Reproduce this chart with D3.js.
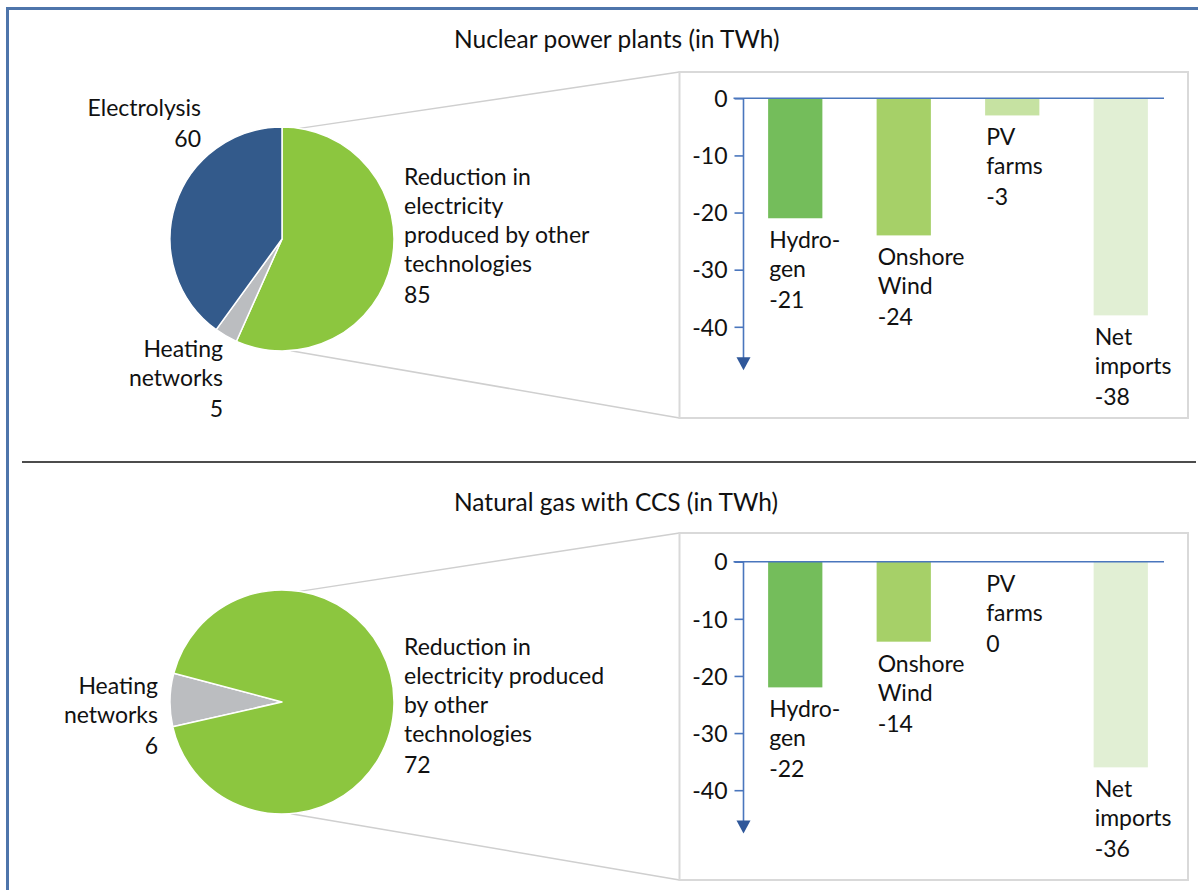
<!DOCTYPE html>
<html>
<head>
<meta charset="utf-8">
<script src="https://cdn.jsdelivr.net/npm/d3@7"></script>
<style>
  html, body { margin: 0; padding: 0; background: #fff; }
  svg { display: block; font-family: Lato, "Open Sans", sans-serif; }
</style>
</head>
<body>
<svg id="chart" width="1198" height="890"></svg>
<script>
// ---- Data ---------------------------------------------------------------
const panelTitles = ["Nuclear power plants (in TWh)", "Natural gas with CCS (in TWh)"];

const nuclearPieNames  = ["Reduction", "Heating", "Electrolysis"];
const nuclearPieValues = [85, 5, 60];
const nuclearPieLines  = [
  ["Reduction in", "electricity", "produced by other", "technologies"],
  ["Heating", "networks"],
  ["Electrolysis"]
];

const gasPieNames  = ["Heating", "Reduction"];
const gasPieValues = [6, 72];
const gasPieLines  = [
  ["Heating", "networks"],
  ["Reduction in", "electricity produced", "by other", "technologies"]
];

const barCategories   = ["Hydrogen", "Onshore Wind", "PV farms", "Net imports"];
const barLabelLines   = [["Hydro-", "gen"], ["Onshore", "Wind"], ["PV", "farms"], ["Net", "imports"]];
const nuclearBarValues = [-21, -24, -3, -38];
const gasBarValues     = [-22, -14, 0, -36];
const yTickValues      = [0, -10, -20, -30, -40];

// ---- Styling ------------------------------------------------------------
const pieColor = { Reduction: "#8cc63f", Heating: "#bbbdc0", Electrolysis: "#335a8b" };
const barColor = d3.scaleOrdinal().domain(barCategories)
  .range(["#74bd5b", "#a6d068", "#c6e2a2", "#e1efd4"]);
const axisBlue = "#4a76bd";
const arrowBlue = "#30589a";
const textColor = "#111";
const fontSize = 23;
const lineStep = 29;
const valueStep = 31;

const svg = d3.select("#chart");

// outer frame
svg.append("rect")
  .attr("x", 7.5).attr("y", 8.5).attr("width", 1400).attr("height", 1000)
  .attr("fill", "none").attr("stroke", "#4e75ab").attr("stroke-width", 3);

// divider between the two panels
svg.append("line")
  .attr("x1", 22).attr("x2", 1196).attr("y1", 462).attr("y2", 462)
  .attr("stroke", "#111").attr("stroke-width", 1.6);

// Multi-line label: text lines followed by the value on its own line
function multiLabel(g, x, y, lines, value, anchor) {
  const t = g.append("text")
    .attr("x", x).attr("y", y)
    .attr("text-anchor", anchor)
    .attr("font-size", fontSize)
    .attr("fill", textColor);
  lines.forEach((s, i) => {
    t.append("tspan").attr("x", x).attr("dy", i === 0 ? 0 : lineStep).text(s);
  });
  t.append("tspan").attr("x", x).attr("dy", lines.length ? valueStep : 0).text(String(value));
}

const panels = [
  {
    dy: 0,
    title: panelTitles[0],
    pieNames: nuclearPieNames, pieValues: nuclearPieValues, pieLines: nuclearPieLines,
    pieStartDeg: 0,
    pieLabelPos: [
      { x: 404, y: 185, anchor: "start" },
      { x: 223, y: 357, anchor: "end" },
      { x: 201, y: 116, anchor: "end" }
    ],
    barValues: nuclearBarValues,
    frameTop: 72, frameBottom: 418, y0: 98.3
  },
  {
    dy: 463,
    title: panelTitles[1],
    pieNames: gasPieNames, pieValues: gasPieValues, pieLines: gasPieLines,
    pieStartDeg: 257.2,
    pieLabelPos: [
      { x: 158, y: 694, anchor: "end" },
      { x: 404, y: 655, anchor: "start" }
    ],
    barValues: gasBarValues,
    frameTop: 533, frameBottom: 880, y0: 561.7
  }
];

const pieR = 112;
const pieCx = 282;
const frameLeft = 679.5, frameRight = 1188;

panels.forEach(p => {
  const g = svg.append("g");
  const cy = 239 + p.dy;

  // title
  g.append("text")
    .attr("x", 454).attr("y", 48 + p.dy)
    .attr("font-size", 24.5).attr("fill", textColor)
    .text(p.title);

  // connector lines from pie to the breakdown box
  const a1 = 9 * Math.PI / 180, a2 = 175.5 * Math.PI / 180;
  const conn = [
    [pieCx + pieR * Math.sin(a1), cy - pieR * Math.cos(a1), frameLeft, p.frameTop],
    [pieCx + pieR * Math.sin(a2), cy - pieR * Math.cos(a2), frameLeft, p.frameBottom]
  ];
  g.selectAll(".conn").data(conn).join("line")
    .attr("x1", d => d[0]).attr("y1", d => d[1])
    .attr("x2", d => d[2]).attr("y2", d => d[3])
    .attr("stroke", "#cfcfcf").attr("stroke-width", 1.5);

  // pie
  const start = p.pieStartDeg * Math.PI / 180;
  const pieData = p.pieNames.map((n, i) => ({ name: n, value: p.pieValues[i], lines: p.pieLines[i] }));
  const arcs = d3.pie().sort(null).value(d => d.value)
    .startAngle(start).endAngle(start + 2 * Math.PI)(pieData);
  const arc = d3.arc().innerRadius(0).outerRadius(pieR);
  g.append("g").attr("transform", `translate(${pieCx},${cy})`)
    .selectAll("path").data(arcs).join("path")
    .attr("d", arc)
    .attr("fill", d => pieColor[d.data.name])
    .attr("stroke", "#fff").attr("stroke-width", 1.5).attr("stroke-linejoin", "round");

  pieData.forEach((d, i) => {
    const pos = p.pieLabelPos[i];
    multiLabel(g, pos.x, pos.y, d.lines, d.value, pos.anchor);
  });

  // breakdown box
  g.append("rect")
    .attr("x", frameLeft).attr("y", p.frameTop)
    .attr("width", frameRight - frameLeft).attr("height", p.frameBottom - p.frameTop)
    .attr("fill", "#fff").attr("stroke", "#d9d9d9").attr("stroke-width", 2);

  // bar chart scales
  const x = d3.scaleBand().domain(barCategories).range([741, 1175])
    .paddingInner(0.5).paddingOuter(0.25);
  const y = d3.scaleLinear().domain([0, -40]).range([p.y0, p.y0 + 228.5]);
  const axisX = 743.5;

  // bars
  const barData = barCategories.map((c, i) => ({ cat: c, value: p.barValues[i], lines: barLabelLines[i] }));
  g.selectAll(".bar").data(barData).join("rect")
    .attr("x", d => x(d.cat)).attr("width", x.bandwidth())
    .attr("y", y(0)).attr("height", d => y(d.value) - y(0))
    .attr("fill", d => barColor(d.cat));

  // bar labels below the bar ends
  barData.forEach(d => {
    multiLabel(g, x(d.cat) + 1, y(d.value) + 30, d.lines, d.value, "start");
  });

  // zero line
  g.append("line")
    .attr("x1", axisX - 10).attr("x2", 1164)
    .attr("y1", y(0)).attr("y2", y(0))
    .attr("stroke", axisBlue).attr("stroke-width", 1.6);

  // value axis with downward arrow
  const yAxis = d3.axisLeft(y).tickValues(yTickValues).tickSize(9).tickPadding(7)
    .tickFormat(d => String(d));
  const ax = g.append("g").attr("transform", `translate(${axisX},0)`).call(yAxis);
  ax.select(".domain").remove();
  ax.selectAll(".tick line").attr("stroke", axisBlue).attr("stroke-width", 1.6);
  ax.selectAll(".tick text")
    .attr("font-size", fontSize).attr("font-family", "Lato, sans-serif")
    .attr("fill", textColor).attr("dy", "0.36em");

  const tipY = y(-47.6);
  g.append("line")
    .attr("x1", axisX).attr("x2", axisX)
    .attr("y1", y(0)).attr("y2", tipY - 10)
    .attr("stroke", axisBlue).attr("stroke-width", 1.6);
  g.append("path")
    .attr("d", `M${axisX - 7},${tipY - 13} L${axisX + 7},${tipY - 13} L${axisX},${tipY} Z`)
    .attr("fill", arrowBlue);
});
</script>
</body>
</html>
